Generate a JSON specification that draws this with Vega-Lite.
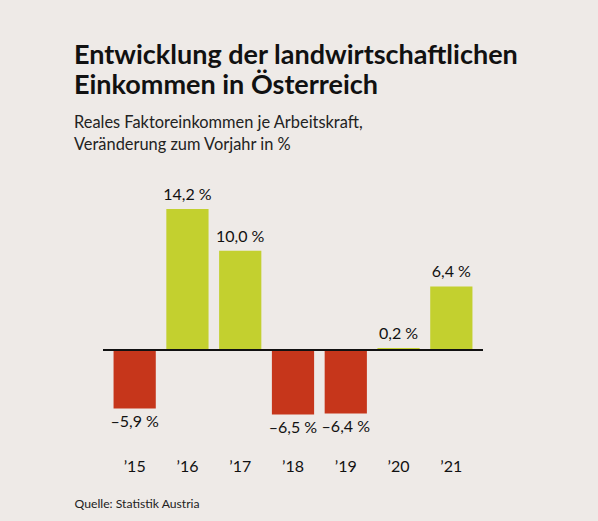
{
  "$schema": "https://vega.github.io/schema/vega-lite/v6.json",
  "autosize": {"type": "none"},
  "width": 380,
  "height": 260,
  "padding": {"left": 103, "top": 180, "right": 115, "bottom": 81},
  "background": "#eeeae7",
  "config": {
    "view": {"stroke": null},
    "font": "Lato"
  },
  "title": {
    "text": ["Entwicklung der landwirtschaftlichen", "Einkommen in Österreich"],
    "subtitle": ["Reales Faktoreinkommen je Arbeitskraft,", "Veränderung zum Vorjahr in %"],
    "anchor": "start",
    "frame": "group",
    "dx": -29,
    "offset": 26,
    "font": "Lato",
    "fontSize": 27,
    "fontWeight": "bold",
    "lineHeight": 30,
    "color": "#111111",
    "subtitleFont": "Lato",
    "subtitleFontSize": 16.4,
    "subtitleLineHeight": 22,
    "subtitleColor": "#222222",
    "subtitlePadding": 15
  },
  "data": {
    "values": [
      {"year": "’15", "value": -5.9, "label": "–5,9 %", "sign": "neg"},
      {"year": "’16", "value": 14.2, "label": "14,2 %", "sign": "pos"},
      {"year": "’17", "value": 10.0, "label": "10,0 %", "sign": "pos"},
      {"year": "’18", "value": -6.5, "label": "–6,5 %", "sign": "neg"},
      {"year": "’19", "value": -6.4, "label": "–6,4 %", "sign": "neg"},
      {"year": "’20", "value": 0.2, "label": "0,2 %", "sign": "pos"},
      {"year": "’21", "value": 6.4, "label": "6,4 %", "sign": "pos"}
    ]
  },
  "encoding": {
    "x": {
      "field": "year",
      "type": "nominal",
      "sort": null,
      "scale": {"paddingInner": 0.2, "paddingOuter": 0.2},
      "axis": {
        "domain": false,
        "ticks": false,
        "labelAngle": 0,
        "labelPadding": 18,
        "labelFontSize": 16,
        "labelColor": "#111111",
        "labelFont": "Lato",
        "labelDx": 4,
        "title": "Quelle: Statistik Austria",
        "titleFont": "Lato",
        "titleFontSize": 12.2,
        "titleFontWeight": "normal",
        "titleColor": "#222222",
        "titleAnchor": "start",
        "titleAlign": "left",
        "titleBaseline": "middle",
        "titleX": -29,
        "titleY": 63
      }
    }
  },
  "layer": [
    {
      "mark": {"type": "bar"},
      "encoding": {
        "y": {
          "field": "value",
          "type": "quantitative",
          "scale": {"domain": [-9.06, 17.12], "nice": false, "zero": false},
          "axis": null
        },
        "color": {
          "field": "sign",
          "type": "nominal",
          "scale": {"domain": ["pos", "neg"], "range": ["#c3d02f", "#c6361b"]},
          "legend": null
        }
      }
    },
    {
      "data": {"values": [{"zero": 0}]},
      "mark": {"type": "rule", "color": "#111111", "strokeWidth": 2},
      "encoding": {
        "x": null,
        "y": {"field": "zero", "type": "quantitative"}
      }
    },
    {
      "transform": [{"filter": "datum.value >= 0"}],
      "mark": {"type": "text", "baseline": "bottom", "dy": -6, "fontSize": 16, "color": "#111111"},
      "encoding": {
        "y": {"field": "value", "type": "quantitative"},
        "text": {"field": "label"}
      }
    },
    {
      "transform": [{"filter": "datum.value < 0"}],
      "mark": {"type": "text", "baseline": "top", "dy": 5, "fontSize": 16, "color": "#111111"},
      "encoding": {
        "y": {"field": "value", "type": "quantitative"},
        "text": {"field": "label"}
      }
    }
  ]
}
